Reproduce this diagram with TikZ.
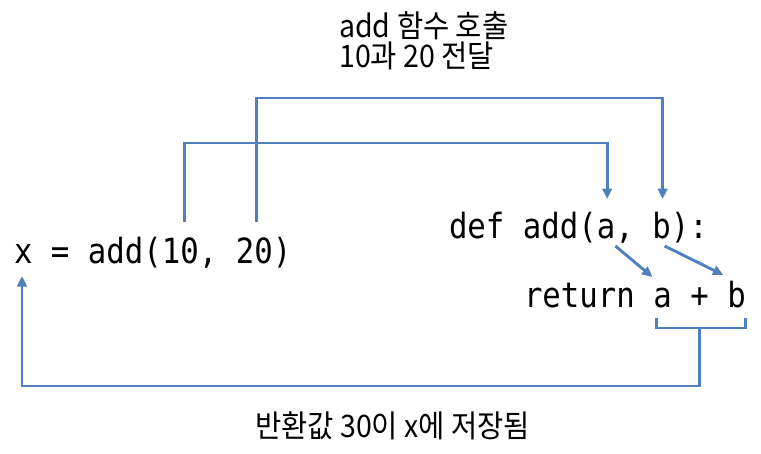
\documentclass[tikz,border=0pt]{standalone}
\usepackage{fontspec}
\newfontfamily\codefont[FakeStretch=0.885]{DejaVu Sans Mono}
\newfontfamily\krfont[FakeStretch=0.92]{Noto Sans CJK KR}
\usepackage{xcolor}
\definecolor{linkblue}{RGB}{79,129,189}
\usepackage{tikz}
\usetikzlibrary{positioning, arrows.meta, calc}
\newcommand{\codesp}{\hphantom{x}}
\tikzstyle{tok} = [
    font=\codefont\fontsize{34.7}{40}\selectfont,
    inner sep=0pt, outer sep=0pt,
    text height=26pt, text depth=8pt,
]
\tikzstyle{note} = [
    font=\krfont\fontsize{31}{30}\selectfont,
    inner sep=0pt, align=left,
]
\tikzstyle{link} = [draw=linkblue, line width=2.9pt]
\tikzstyle{arrow} = [link, -{Triangle[length=10.5pt,width=9.5pt]}]

\begin{document}
\begin{tikzpicture}[x=1pt, y=-1pt]
    \useasboundingbox (0,0) rectangle (761,453);

    % code
    \node[tok, anchor=base west] (callx) at (14,263) {x = add(};
    \node[tok, right=0pt of callx] (ten) {10};
    \node[tok, right=0pt of ten] (comma1) {,\codesp};
    \node[tok, right=0pt of comma1] (twenty) {20};
    \node[tok, right=0pt of twenty] (close1) {)};

    \node[tok, anchor=base west] (defkw) at (449,238) {def add(};
    \node[tok, right=0pt of defkw] (pa) {a};
    \node[tok, right=0pt of pa] (comma2) {,\codesp};
    \node[tok, right=0pt of comma2] (pb) {b};
    \node[tok, right=0pt of pb] (defend) {):};

    \node[tok, anchor=base west] (retkw) at (524,307) {return\codesp};
    \node[tok, right=0pt of retkw] (ra) {a};
    \node[tok, right=0pt of ra] (plus) {\codesp+\codesp};
    \node[tok, right=0pt of plus] (rb) {b};

    % labels
    \node[note, anchor=north west] (calllbl) at (339,11) {add 함수 호출\\10과 20 전달};
    \node[note, anchor=base west] (retlbl) at (255,437) {반환값 30이 x에 저장됨};

    % arrows
    \draw[arrow] ([xshift=4pt,yshift=15pt]ten.north) -- ++(0,-79)
        -| ([xshift=1pt,yshift=13pt]pa.north);
    \draw[arrow] ([xshift=2pt,yshift=15pt]twenty.north) -- ++(0,-124)
        -| ([xshift=1pt,yshift=13pt]pb.north);

    \draw[arrow] (pa.south east) -- ([xshift=-1pt,yshift=4pt]ra.north west);
    \draw[arrow] ([xshift=3pt]pb.south) -- ([xshift=-4pt,yshift=6pt]rb.north west);

    % return value
    \draw[link] ([xshift=3pt,yshift=-3pt]ra.south west) -- ++(0,10)
        -| ([yshift=-3pt]rb.south east);
    \coordinate (retmid) at ($(ra.south west)!0.5!(rb.south east)+(0,13)$);
    \draw[arrow] (retmid) -- ++(0,58) -| ([xshift=8pt,yshift=-5pt]callx.south west);
\end{tikzpicture}
\end{document}
